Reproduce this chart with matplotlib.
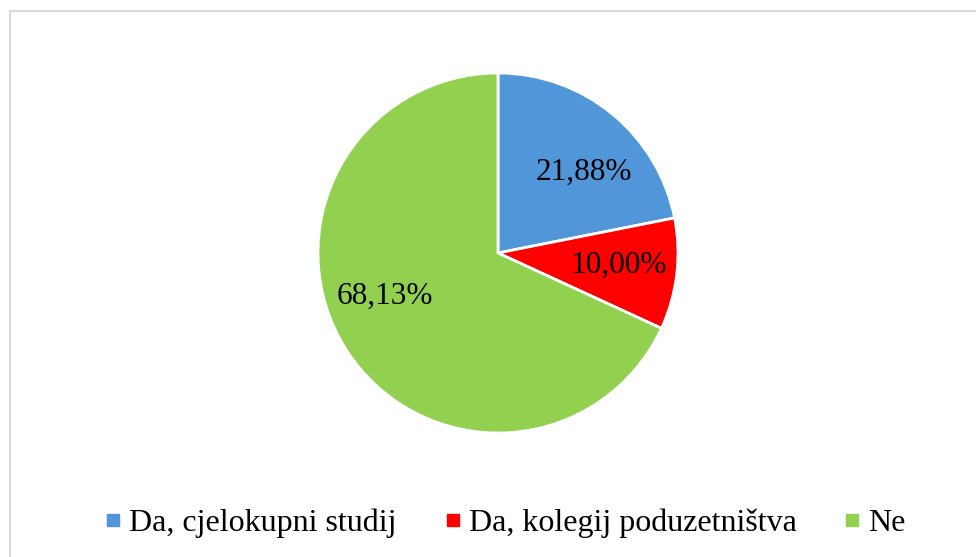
import matplotlib.pyplot as plt
from matplotlib.lines import Line2D
from matplotlib.patches import Rectangle

plt.rcParams['font.family'] = ['Liberation Serif', 'DejaVu Serif']

labels = ['Da, cjelokupni studij', 'Da, kolegij poduzetništva', 'Ne']
values = [21.88, 10.00, 68.13]
colors = ['#5096D8', '#FF0000', '#92D050']
# label positions in pie-radius units (Excel places them freely)
label_pos = [(0.478, 0.45), (0.667, -0.067), (-0.628, -0.239)]

W, H = 976, 557
fig = plt.figure(figsize=(W / 100, H / 100), dpi=100)

# chart border
fig.patches.append(Rectangle((10 / W, -0.1), 1.2, 1 - 11 / H + 0.1,
                             transform=fig.transFigure, fill=False,
                             edgecolor='#D9D9D9', linewidth=1.5))

cx, cy, r = 498, 253, 180
ax = fig.add_axes([(cx - r) / W, (H - cy - r) / H, 2 * r / W, 2 * r / H])
wedges, _ = ax.pie(values, colors=colors, startangle=90, counterclock=False,
                   wedgeprops=dict(edgecolor='white', linewidth=2))
ax.set_xlim(-1, 1)
ax.set_ylim(-1, 1)
ax.axis('off')

for v, (x, y) in zip(values, label_pos):
    ax.text(x, y, f'{v:.2f}%'.replace('.', ','), ha='center', va='center',
            fontsize=22.5, color='black')

handles = [Line2D([], [], marker='s', linestyle='none', markersize=8.5,
                  markerfacecolor=c, markeredgecolor=c) for c in colors]
fig.legend(handles, labels, loc='center', bbox_to_anchor=(0.518, 1 - 523 / H),
           ncol=3, frameon=False, fontsize=23, handlelength=0.5,
           handletextpad=0.25, columnspacing=1.5)

fig.savefig('out.png', dpi=100)
